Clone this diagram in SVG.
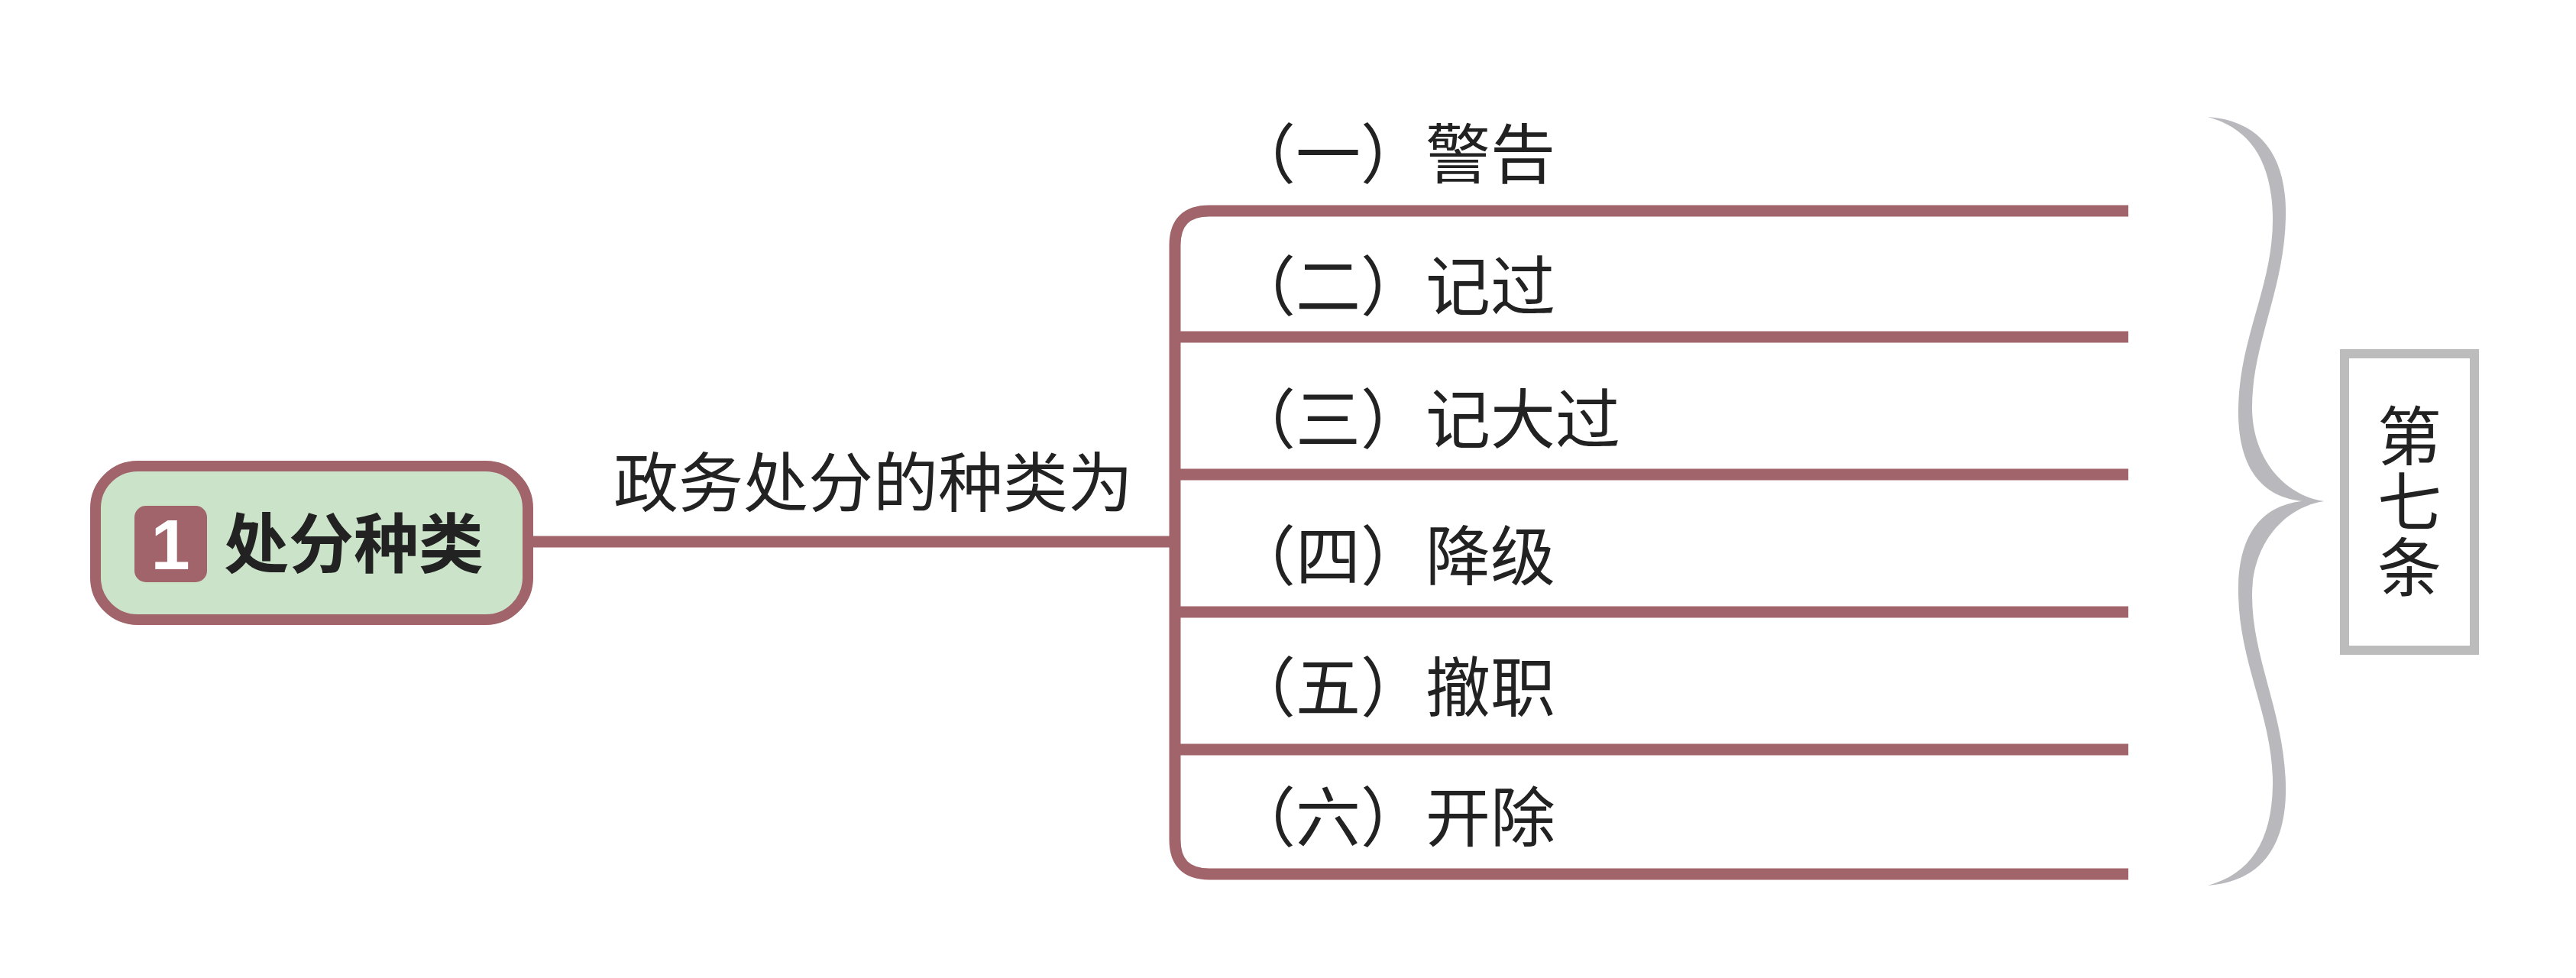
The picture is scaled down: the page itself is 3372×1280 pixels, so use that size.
<svg xmlns="http://www.w3.org/2000/svg" width="3372" height="1280" viewBox="0 0 3372 1280">
  <style>
    .cjk { font-family: "Noto Sans CJK SC", "Noto Sans", sans-serif; fill: #222222; }
    .lbl { font-size: 85px; }
    .conn { fill: none; stroke: #a1646b; stroke-width: 15; stroke-linecap: butt; stroke-linejoin: round; }
    .brace { fill: #b9b9bd; }
  </style>
  <rect x="0" y="0" width="3372" height="1280" fill="#ffffff"/>

  <g id="connectors">
    <path class="conn" d="M 698 709 H 1538"/>
    <path class="conn" d="M 2786 276 H 1583 Q 1538 276 1538 321 V 1099 Q 1538 1144 1583 1144 H 2786"/>
    <path class="conn" d="M 1538 441 H 2786"/>
    <path class="conn" d="M 1538 621 H 2786"/>
    <path class="conn" d="M 1538 801 H 2786"/>
    <path class="conn" d="M 1538 981 H 2786"/>
  </g>

  <g id="root">
    <rect x="125" y="610" width="566" height="201" rx="55" ry="55" fill="#cae3c9" stroke="#a1646b" stroke-width="14"/>
    <rect x="176" y="662" width="95" height="100" rx="15" ry="15" fill="#a1646b"/>
    <text x="223" y="745" text-anchor="middle" font-family="Liberation Sans, Arial, sans-serif" font-weight="bold" font-size="92" fill="#ffffff">1</text>
    <text class="cjk" x="293" y="743" font-size="85" font-weight="bold">处分种类</text>
  </g>

  <g id="edge-label">
    <text class="cjk lbl" x="803" y="663">政务处分的种类为</text>
  </g>

  <g id="item1"><text class="cjk lbl" x="1611" y="233">（一）警告</text></g>
  <g id="item2"><text class="cjk lbl" x="1611" y="406">（二）记过</text></g>
  <g id="item3"><text class="cjk lbl" x="1611" y="580">（三）记大过</text></g>
  <g id="item4"><text class="cjk lbl" x="1611" y="759">（四）降级</text></g>
  <g id="item5"><text class="cjk lbl" x="1611" y="931">（五）撤职</text></g>
  <g id="item6"><text class="cjk lbl" x="1611" y="1101">（六）开除</text></g>

  <g id="brace">
    <path class="brace" d="M 2890 153 C 2960 158 2994 205 2992 285 C 2990 380 2948 450 2948 533 C 2948 600 2990 648 3042 656 C 2975 662 2928 628 2930 533 C 2932 440 2976 372 2975 285 C 2974 210 2945 168 2890 153 Z"/>
    <path class="brace" d="M 2890 1159 C 2960 1154 2994 1107 2992 1027 C 2990 932 2948 862 2948 779 C 2948 712 2990 664 3042 656 C 2975 650 2928 684 2930 779 C 2932 872 2976 940 2975 1027 C 2974 1102 2945 1144 2890 1159 Z"/>
  </g>

  <g id="article">
    <rect x="3069" y="463" width="170" height="388" fill="#ffffff" stroke="#bcbcbc" stroke-width="12"/>
    <text class="cjk" x="3154" y="657" font-size="84" text-anchor="middle" letter-spacing="2" style="writing-mode: vertical-rl;">第七条</text>
  </g>
</svg>
